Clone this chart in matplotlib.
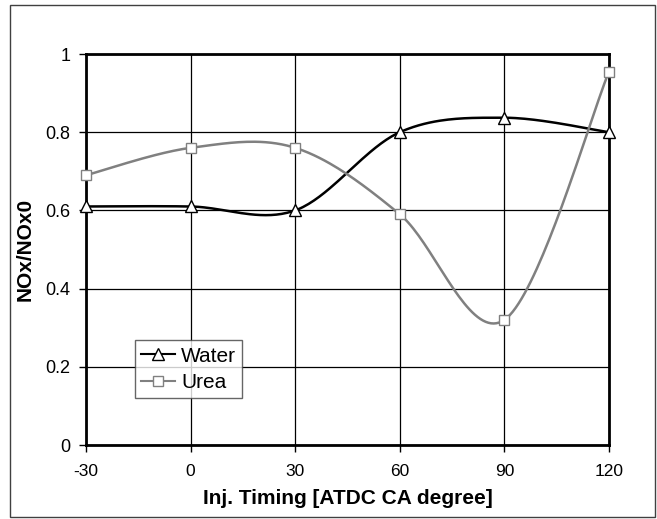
import numpy as np
import matplotlib
matplotlib.use("Agg")
import matplotlib.pyplot as plt
from matplotlib.patches import Rectangle
from matplotlib.lines import Line2D

plt.rcParams['font.family'] = ['Liberation Sans', 'DejaVu Sans']

timing = [-30, 0, 30, 60, 90, 120]
water = [0.61, 0.61, 0.60, 0.80, 0.837, 0.80]
urea = [0.69, 0.76, 0.76, 0.59, 0.32, 0.955]
xticks = [-30, 0, 30, 60, 90, 120]
yticks = [0, 0.2, 0.4, 0.6, 0.8, 1.0]
ytick_labels = ['0', '0.2', '0.4', '0.6', '0.8', '1']


def smooth(x, y, n=40):
    x = np.asarray(x, float)
    y = np.asarray(y, float)
    P = np.column_stack([x, y])
    out = []
    for i in range(len(P) - 1):
        p0 = P[i - 1] if i > 0 else P[i]
        p1 = P[i]
        p2 = P[i + 1]
        p3 = P[i + 2] if i + 2 < len(P) else P[i + 1]
        c1 = p1 + (p2 - p0) / 6.0
        c2 = p2 - (p3 - p1) / 6.0
        t = np.linspace(0, 1, n)[:, None]
        seg = ((1 - t) ** 3) * p1 + 3 * ((1 - t) ** 2) * t * c1 + 3 * (1 - t) * t ** 2 * c2 + t ** 3 * p2
        out.append(seg if i == 0 else seg[1:])
    s = np.vstack(out)
    return s[:, 0], s[:, 1]


fig = plt.figure(figsize=(6.57, 5.19), dpi=100)
fig.patches.append(Rectangle((10 / 657, 2 / 519), 645 / 657, 512 / 519,
                             transform=fig.transFigure, fill=False,
                             edgecolor='#404040', linewidth=1.0))
ax = fig.add_axes([86 / 657, 1 - 445 / 519, 523 / 657, 391 / 519])

wx, wy = smooth(timing, water)
ux, uy = smooth(timing, urea)
ax.plot(wx, wy, color='black', lw=1.8, zorder=3, clip_on=False)
ax.plot(ux, uy, color='#808080', lw=1.8, zorder=3, clip_on=False)
ax.plot(timing, water, ls='none', marker='^', ms=8.5, mfc='white', mec='black',
        mew=1.0, zorder=4, clip_on=False)
ax.plot(timing, urea, ls='none', marker='s', ms=7.5, mfc='white', mec='#808080',
        mew=1.0, zorder=4, clip_on=False)

h1 = Line2D([], [], color='black', lw=1.5, marker='^', ms=8, mfc='white', mec='black', mew=1.0)
h2 = Line2D([], [], color='#808080', lw=1.5, marker='s', ms=7, mfc='white', mec='#808080', mew=1.0)
leg = ax.legend([h1, h2], ['Water', 'Urea'], loc='lower left',
                bbox_to_anchor=(0.094, 0.12), fontsize=15, frameon=True,
                fancybox=False, handlelength=1.6, handletextpad=0.3,
                borderpad=0.3, labelspacing=0.35, borderaxespad=0)
leg.get_frame().set_edgecolor('#404040')
leg.get_frame().set_linewidth(1.0)
leg.set_zorder(5)

ax.set_xlim(-30, 120)
ax.set_ylim(0, 1)
ax.set_xticks(xticks)
ax.set_xticklabels([str(v) for v in xticks])
ax.set_yticks(yticks)
ax.set_yticklabels(ytick_labels)
ax.grid(True, color='black', lw=0.9)
ax.set_axisbelow(True)
ax.tick_params(direction='out', length=5, width=1)
ax.tick_params(axis='x', labelsize=12.5, pad=9)
ax.tick_params(axis='y', labelsize=13, pad=6)
for s in ax.spines.values():
    s.set_linewidth(2)
ax.set_xlabel('Inj. Timing [ATDC CA degree]', fontsize=15, fontweight='bold', labelpad=7)
ax.set_ylabel('NOx/NOx0', fontsize=15, fontweight='bold', labelpad=8)

fig.savefig('out.png', dpi=100)
